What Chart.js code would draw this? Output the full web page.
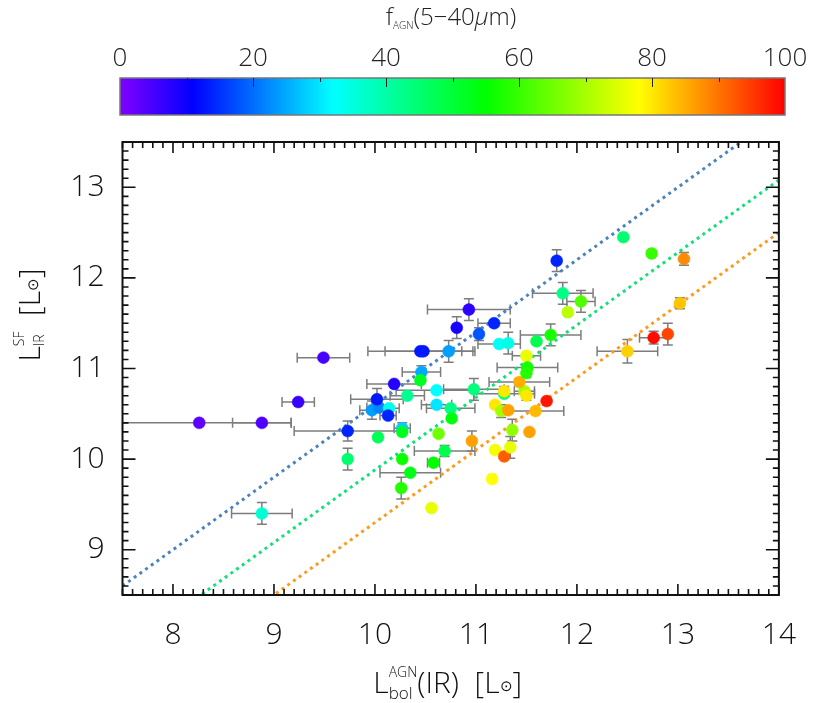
<!DOCTYPE html>
<html>
<head>
<meta charset="utf-8">
<script src="https://cdn.jsdelivr.net/npm/chart.js@4.4.1/dist/chart.umd.min.js"></script>
<style>
  html, body { margin: 0; padding: 0; background: #fff; }
  #wrap { position: relative; width: 818px; height: 703px; }
  canvas { position: absolute; left: 0; top: 0; }
</style>
</head>
<body>
<div id="wrap">
  <canvas id="chart" width="818" height="703"></canvas>
  <canvas id="cbar" width="818" height="130"></canvas>
</div>
<script>
// L_IR^SF vs L_bol^AGN, coloured by AGN fraction

const lbolAGN = [8.26, 8.88, 9.24, 9.49, 8.88, 9.73, 9.73, 9.97, 10.04, 10.02,
  10.14, 10.13, 10.03, 10.19, 10.32, 10.27, 10.27, 10.27, 10.26, 10.35,
  10.45, 10.48, 10.73, 10.46, 10.45, 10.61, 10.61, 10.75, 10.76, 10.63,
  10.69, 10.58, 10.56, 10.81, 10.93, 10.98, 10.96, 11.03, 11.18, 11.23,
  11.32, 11.16, 11.19, 11.28, 11.34, 11.36, 11.53, 11.19, 11.25, 11.32,
  11.59, 11.28, 11.28, 11.48, 11.50, 11.70, 11.43, 11.50, 11.51, 11.50,
  11.60, 11.74, 11.80, 11.86, 11.91, 12.04, 12.46, 12.74, 13.06, 13.02,
  12.90, 12.76, 12.50];
const lirSF = [10.40, 10.40, 10.63, 11.12, 9.40, 10.31, 10.00, 10.54, 10.57, 10.66,
  10.56, 10.48, 10.24, 10.83, 10.70, 10.34, 10.30, 10.00, 9.68, 9.85,
  11.19, 11.19, 11.19, 10.96, 10.87, 10.76, 10.60, 10.56, 10.45, 10.28,
  10.09, 9.96, 9.46, 11.45, 11.65, 10.77, 10.20, 11.38, 11.50, 11.27,
  11.28, 9.78, 10.10, 10.03, 10.13, 10.32, 10.30, 10.60, 10.53, 10.54,
  10.53, 10.72, 10.75, 10.75, 10.70, 10.64, 10.85, 11.14, 11.01, 10.95,
  11.30, 11.37, 12.19, 11.83, 11.62, 11.74, 12.45, 12.27, 12.21, 11.72,
  11.38, 11.34, 11.19];
const xErr = [0.91, 0.29, 0.16, 0.26, 0.30, 0.53, 0, 0.12, 0.12, 0.26,
  0.10, 0.08, 0, 0.27, 0.17, 0.08, 0, 0, 0, 0.30,
  0.52, 0.38, 0.26, 0.19, 0, 0.40, 0.15, 0.24, 0, 0,
  0.30, 0.06, 0, 0, 0.41, 0.30, 0, 0, 0.16, 0.21,
  0, 0.03, 0, 0.03, 0, 0, 0, 0, 0, 0,
  0.28, 0.30, 0, 0.10, 0, 0, 0.30, 0.14, 0.30, 0,
  0, 0.30, 0, 0.30, 0.03, 0.14, 0.03, 0.03, 0, 0,
  0, 0.14, 0.30];
const yErr = [0, 0, 0, 0, 0.12, 0.11, 0.12, 0.10, 0, 0.12,
  0, 0, 0, 0, 0, 0.06, 0, 0, 0.12, 0,
  0, 0, 0.12, 0.07, 0, 0, 0, 0, 0, 0,
  0.06, 0, 0, 0.12, 0.12, 0.12, 0.11, 0.07, 0, 0,
  0.12, 0.03, 0, 0.03, 0.12, 0.12, 0, 0, 0.07, 0,
  0, 0, 0.05, 0, 0.05, 0, 0.04, 0, 0, 0.05,
  0, 0.12, 0.12, 0.12, 0.03, 0.12, 0.03, 0.03, 0.07, 0.06,
  0.12, 0.07, 0.13];
const fAGN = [3, 4, 6, 5, 36, 14, 45, 24, 22, 13,
  34, 14, 47, 8, 42, 28, 52, 56, 58, 53,
  13, 13, 24, 25, 52, 32, 30, 43, 54, 65,
  48, 55, 76, 9, 7, 44, 86, 18, 14, 33,
  34, 78, 77, 92, 76, 68, 86, 80, 70, 86,
  84, 45, 80, 70, 80, 98, 85, 76, 57, 58,
  48, 57, 14, 43, 72, 62, 45, 60, 88, 83,
  94, 99, 82];

// dotted reference lines: L_SF = slope * L_AGN + offset
const lineSlope = 0.8;
const lineOffsets = [2.6, 1.88, 1.3];
const lineColors = ['#4a83bd', '#14e07a', '#ff9a1a'];

const xTicks = [8, 9, 10, 11, 12, 13, 14];
const yTicks = [9, 10, 11, 12, 13];
const cbarTicks = [0, 20, 40, 60, 80, 100];

const FONT = "'Open Sans', 'DejaVu Sans', sans-serif";

// rainbow colour table
const cmapStops = [
  [0.00, [128, 0, 255]],
  [0.11, [0, 0, 255]],
  [0.32, [0, 255, 255]],
  [0.55, [0, 255, 0]],
  [0.78, [255, 255, 0]],
  [1.00, [255, 0, 0]]
];
function cmap(f) {
  const t = Math.max(0, Math.min(1, f / 100));
  for (let i = 1; i < cmapStops.length; i++) {
    const [t1, c1] = cmapStops[i];
    const [t0, c0] = cmapStops[i - 1];
    if (t <= t1) {
      const u = (t - t0) / (t1 - t0);
      const c = c0.map((v, k) => Math.round(v + (c1[k] - v) * u));
      return `rgb(${c[0]},${c[1]},${c[2]})`;
    }
  }
  return 'rgb(255,0,0)';
}

// text with sub/superscripts; a segment with .stack puts its items at the same x
function richWidth(ctx, parts) {
  let w = 0;
  parts.forEach(p => {
    const items = p.stack || [p];
    let m = 0;
    items.forEach(it => {
      ctx.font = `${it.style || ''} 300 ${it.size}px ${FONT}`;
      m = Math.max(m, ctx.measureText(it.t).width);
    });
    w += m;
  });
  return w;
}
function drawRich(ctx, parts, cx, baseline) {
  let x = cx - richWidth(ctx, parts) / 2;
  ctx.textAlign = 'left';
  ctx.textBaseline = 'alphabetic';
  parts.forEach(p => {
    const items = p.stack || [p];
    let m = 0;
    items.forEach(it => {
      ctx.font = `${it.style || ''} 300 ${it.size}px ${FONT}`;
      ctx.fillText(it.t, x, baseline + (it.dy || 0));
      m = Math.max(m, ctx.measureText(it.t).width);
    });
    x += m;
  });
}

const errorBars = {
  id: 'errorBars',
  beforeDatasetsDraw(chart) {
    const { ctx, chartArea: a, scales: { x, y } } = chart;
    ctx.save();
    ctx.beginPath();
    ctx.rect(a.left, a.top, a.right - a.left, a.bottom - a.top);
    ctx.clip();
    ctx.strokeStyle = '#7d7d7d';
    ctx.lineWidth = 1.5;
    const cap = 5;
    lbolAGN.forEach((xv, i) => {
      const px = x.getPixelForValue(xv);
      const py = y.getPixelForValue(lirSF[i]);
      ctx.beginPath();
      if (xErr[i] > 0) {
        const l = x.getPixelForValue(xv - xErr[i]);
        const r = x.getPixelForValue(xv + xErr[i]);
        ctx.moveTo(l, py); ctx.lineTo(r, py);
        ctx.moveTo(l, py - cap); ctx.lineTo(l, py + cap);
        ctx.moveTo(r, py - cap); ctx.lineTo(r, py + cap);
      }
      if (yErr[i] > 0) {
        const t = y.getPixelForValue(lirSF[i] + yErr[i]);
        const b = y.getPixelForValue(lirSF[i] - yErr[i]);
        ctx.moveTo(px, t); ctx.lineTo(px, b);
        ctx.moveTo(px - cap, t); ctx.lineTo(px + cap, t);
        ctx.moveTo(px - cap, b); ctx.lineTo(px + cap, b);
      }
      ctx.stroke();
    });
    ctx.restore();
  }
};

const frameAndTitles = {
  id: 'frameAndTitles',
  afterDraw(chart) {
    const { ctx, chartArea: a, scales: { x, y } } = chart;
    ctx.save();
    ctx.strokeStyle = '#111';
    ctx.lineWidth = 1.6;
    ctx.beginPath();
    for (let k = Math.ceil(x.min * 10 - 1e-6); k <= Math.floor(x.max * 10 + 1e-6); k++) {
      const p = x.getPixelForValue(k / 10);
      const len = k % 10 === 0 ? 11 : 6;
      ctx.moveTo(p, a.bottom); ctx.lineTo(p, a.bottom - len);
      ctx.moveTo(p, a.top); ctx.lineTo(p, a.top + len);
    }
    for (let k = Math.ceil(y.min * 10 - 1e-6); k <= Math.floor(y.max * 10 + 1e-6); k++) {
      const p = y.getPixelForValue(k / 10);
      const len = k % 10 === 0 ? 13 : 6;
      ctx.moveTo(a.left, p); ctx.lineTo(a.left + len, p);
      ctx.moveTo(a.right, p); ctx.lineTo(a.right - len, p);
    }
    ctx.stroke();
    ctx.lineWidth = 2;
    ctx.strokeRect(a.left, a.top, a.right - a.left, a.bottom - a.top);

    ctx.fillStyle = '#111';
    drawRich(ctx, [
      { t: 'L', size: 30 },
      { stack: [{ t: 'bol', size: 17, dy: 6 }, { t: 'AGN', size: 14, dy: -16 }] },
      { t: '(IR)  [L', size: 30 },
      { t: '⊙', size: 15, dy: -2 },
      { t: ']', size: 30 }
    ], (a.left + a.right) / 2 - 3, 693);

    ctx.translate(40, 315);
    ctx.rotate(-Math.PI / 2);
    drawRich(ctx, [
      { t: 'L', size: 30 },
      { stack: [{ t: 'IR', size: 14, dy: 4 }, { t: 'SF', size: 14, dy: -16 }] },
      { t: '  [L', size: 30 },
      { t: '⊙', size: 15, dy: -2 },
      { t: ']', size: 30 }
    ], 0, 0);
    ctx.restore();
  }
};

const lineSets = lineOffsets.map((c, i) => ({
  type: 'line',
  data: [7.5, 14].map(xv => ({ x: xv, y: lineSlope * xv + c })),
  borderColor: lineColors[i],
  borderWidth: 3,
  borderDash: [3, 4],
  pointRadius: 0,
  fill: false,
  order: 1
}));

new Chart(document.getElementById('chart'), {
  type: 'scatter',
  data: {
    datasets: [{
      data: lbolAGN.map((xv, i) => ({ x: xv, y: lirSF[i] })),
      pointRadius: 6,
      pointBackgroundColor: fAGN.map(cmap),
      pointBorderColor: fAGN.map(cmap),
      pointBorderWidth: 0.5,
      order: 0
    }, ...lineSets]
  },
  options: {
    responsive: false,
    animation: false,
    layout: { padding: { left: 0, right: 36, top: 142, bottom: 0 } },
    plugins: { legend: { display: false }, tooltip: { enabled: false } },
    scales: {
      x: {
        type: 'linear', min: 7.5, max: 14,
        afterBuildTicks: s => { s.ticks = xTicks.map(v => ({ value: v })); },
        afterFit: s => { s.height = 108; },
        grid: { display: false, drawTicks: false },
        border: { display: false },
        ticks: { color: '#111', padding: 22, font: { family: FONT, size: 30, weight: 300 }, maxRotation: 0 }
      },
      y: {
        type: 'linear', min: 8.5, max: 13.5,
        afterBuildTicks: s => { s.ticks = yTicks.map(v => ({ value: v })); },
        afterFit: s => { s.width = 122.5; },
        grid: { display: false, drawTicks: false },
        border: { display: false },
        ticks: { color: '#111', padding: 18, font: { family: FONT, size: 30, weight: 300 } }
      }
    }
  },
  plugins: [errorBars, frameAndTitles]
});

// colour bar
const cbarPlugin = {
  id: 'cbarPlugin',
  beforeDatasetsDraw(chart) {
    const { ctx, chartArea: a, scales: { x } } = chart;
    ctx.save();
    const g = ctx.createLinearGradient(a.left, 0, a.right, 0);
    cmapStops.forEach(([t]) => g.addColorStop(t, cmap(t * 100)));
    ctx.fillStyle = g;
    ctx.fillRect(a.left, a.top, a.right - a.left, a.bottom - a.top);
    ctx.strokeStyle = '#777';
    ctx.lineWidth = 1.5;
    ctx.strokeRect(a.left, a.top, a.right - a.left, a.bottom - a.top);
    ctx.strokeStyle = '#222';
    ctx.lineWidth = 1;
    ctx.beginPath();
    for (let v = 10; v < 100; v += 10) {
      const p = Math.round(x.getPixelForValue(v)) + 0.5;
      ctx.moveTo(p, a.top);
      ctx.lineTo(p, a.top + (v % 20 === 0 ? 9 : 4));
    }
    ctx.stroke();
    ctx.fillStyle = '#222';
    drawRich(ctx, [
      { t: 'f', size: 24 },
      { t: 'AGN', size: 10, dy: 4 },
      { t: '(5\u221240', size: 24 },
      { t: 'μ', size: 24, style: 'italic' },
      { t: 'm)', size: 24 }
    ], 451, 25);
    ctx.restore();
  }
};

new Chart(document.getElementById('cbar'), {
  type: 'scatter',
  data: { datasets: [{ data: [] }] },
  options: {
    responsive: false,
    animation: false,
    layout: { padding: { left: 120, right: 33, top: 0, bottom: 15 } },
    plugins: { legend: { display: false }, tooltip: { enabled: false } },
    scales: {
      x: {
        type: 'linear', position: 'top', min: 0, max: 100,
        afterBuildTicks: s => { s.ticks = cbarTicks.map(v => ({ value: v })); },
        afterFit: s => { s.height = 78; },
        grid: { display: false, drawTicks: false },
        border: { display: false },
        ticks: { color: '#222', padding: 4, font: { family: FONT, size: 26, weight: 300 }, maxRotation: 0 }
      },
      y: { display: false, min: 0, max: 1 }
    }
  },
  plugins: [cbarPlugin]
});
</script>
</body>
</html>
